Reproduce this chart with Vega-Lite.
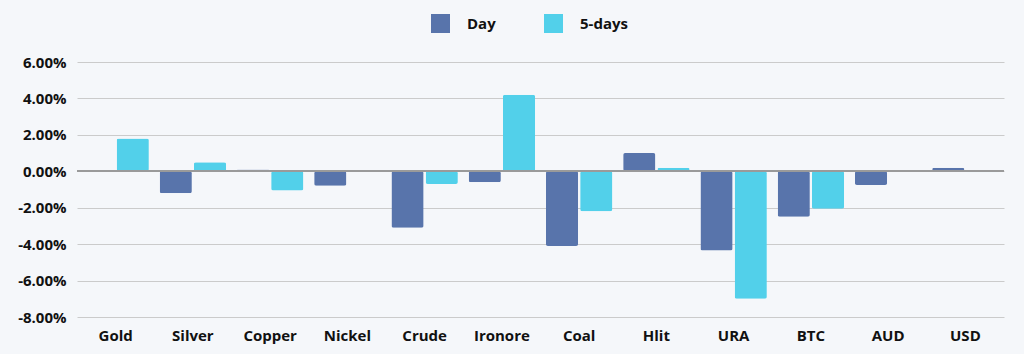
{
  "$schema": "https://vega.github.io/schema/vega-lite/v6.json",
  "width": 927,
  "height": 255,
  "autosize": {"type": "none"},
  "padding": {"left": 77, "top": 62, "right": 20, "bottom": 37},
  "background": "#f5f7fa",
  "config": {
    "view": {"stroke": null},
    "font": "Open Sans",
    "axisY": {
      "title": null,
      "labelOverlap": false,
      "ticks": false,
      "domain": false,
      "labelPadding": 11,
      "labelFontSize": 15,
      "labelFontWeight": "bold",
      "labelColor": "#111111",
      "gridColor": "#cbcbcb",
      "gridWidth": 1.2
    }
  },
  "data": {
    "values": [
      {"asset": "Gold", "series": "Day", "value": 0.0},
      {"asset": "Gold", "series": "5-days", "value": 1.8},
      {"asset": "Silver", "series": "Day", "value": -1.2},
      {"asset": "Silver", "series": "5-days", "value": 0.5},
      {"asset": "Copper", "series": "Day", "value": 0.1},
      {"asset": "Copper", "series": "5-days", "value": -1.05},
      {"asset": "Nickel", "series": "Day", "value": -0.8},
      {"asset": "Nickel", "series": "5-days", "value": -0.02},
      {"asset": "Crude", "series": "Day", "value": -3.1},
      {"asset": "Crude", "series": "5-days", "value": -0.7},
      {"asset": "Ironore", "series": "Day", "value": -0.6},
      {"asset": "Ironore", "series": "5-days", "value": 4.2},
      {"asset": "Coal", "series": "Day", "value": -4.1},
      {"asset": "Coal", "series": "5-days", "value": -2.2},
      {"asset": "Hlit", "series": "Day", "value": 1.0},
      {"asset": "Hlit", "series": "5-days", "value": 0.2},
      {"asset": "URA", "series": "Day", "value": -4.35},
      {"asset": "URA", "series": "5-days", "value": -7.0},
      {"asset": "BTC", "series": "Day", "value": -2.5},
      {"asset": "BTC", "series": "5-days", "value": -2.05},
      {"asset": "AUD", "series": "Day", "value": -0.75},
      {"asset": "AUD", "series": "5-days", "value": 0.05},
      {"asset": "USD", "series": "Day", "value": 0.2},
      {"asset": "USD", "series": "5-days", "value": -0.05}
    ]
  },
  "layer": [
    {
      "mark": {"type": "bar", "cornerRadius": 2},
      "encoding": {
        "x": {
          "field": "asset",
          "type": "nominal",
          "sort": null,
          "scale": {"paddingInner": 0.14, "paddingOuter": 0.07},
          "axis": {
            "title": null,
            "labelAngle": 0,
            "ticks": false,
            "domain": false,
            "labelPadding": 11,
            "labelFontSize": 15,
            "labelFontWeight": "bold",
            "labelColor": "#111111"
          }
        },
        "xOffset": {
          "field": "series",
          "type": "nominal",
          "sort": ["Day", "5-days"],
          "scale": {"paddingInner": 0.06}
        },
        "y": {
          "field": "value",
          "type": "quantitative",
          "scale": {"domain": [-8, 6], "nice": false},
          "axis": {
            "values": [-8, -6, -4, -2, 0, 2, 4, 6],
            "labelExpr": "replace(format(datum.value, '.2f'), '\u2212', '-') + '%'"
          }
        },
        "color": {
          "field": "series",
          "type": "nominal",
          "sort": ["Day", "5-days"],
          "scale": {"domain": ["Day", "5-days"], "range": ["#5874ab", "#52d0ea"]},
          "legend": {
            "title": null,
            "orient": "none",
            "direction": "horizontal",
            "legendX": 354,
            "legendY": -48,
            "padding": 0,
            "symbolType": "square",
            "symbolSize": 361,
            "symbolStrokeWidth": 0,
            "labelOffset": 17,
            "columnPadding": 48,
            "labelFontSize": 15,
            "labelFontWeight": "bold",
            "labelColor": "#111111"
          }
        }
      }
    },
    {
      "mark": {"type": "rule", "color": "#9a9a9a", "strokeWidth": 1.5},
      "encoding": {
        "y": {
          "datum": 0,
          "axis": {
            "values": [-8, -6, -4, -2, 0, 2, 4, 6],
            "labelExpr": "replace(format(datum.value, '.2f'), '\u2212', '-') + '%'"
          }
        }
      }
    }
  ]
}
